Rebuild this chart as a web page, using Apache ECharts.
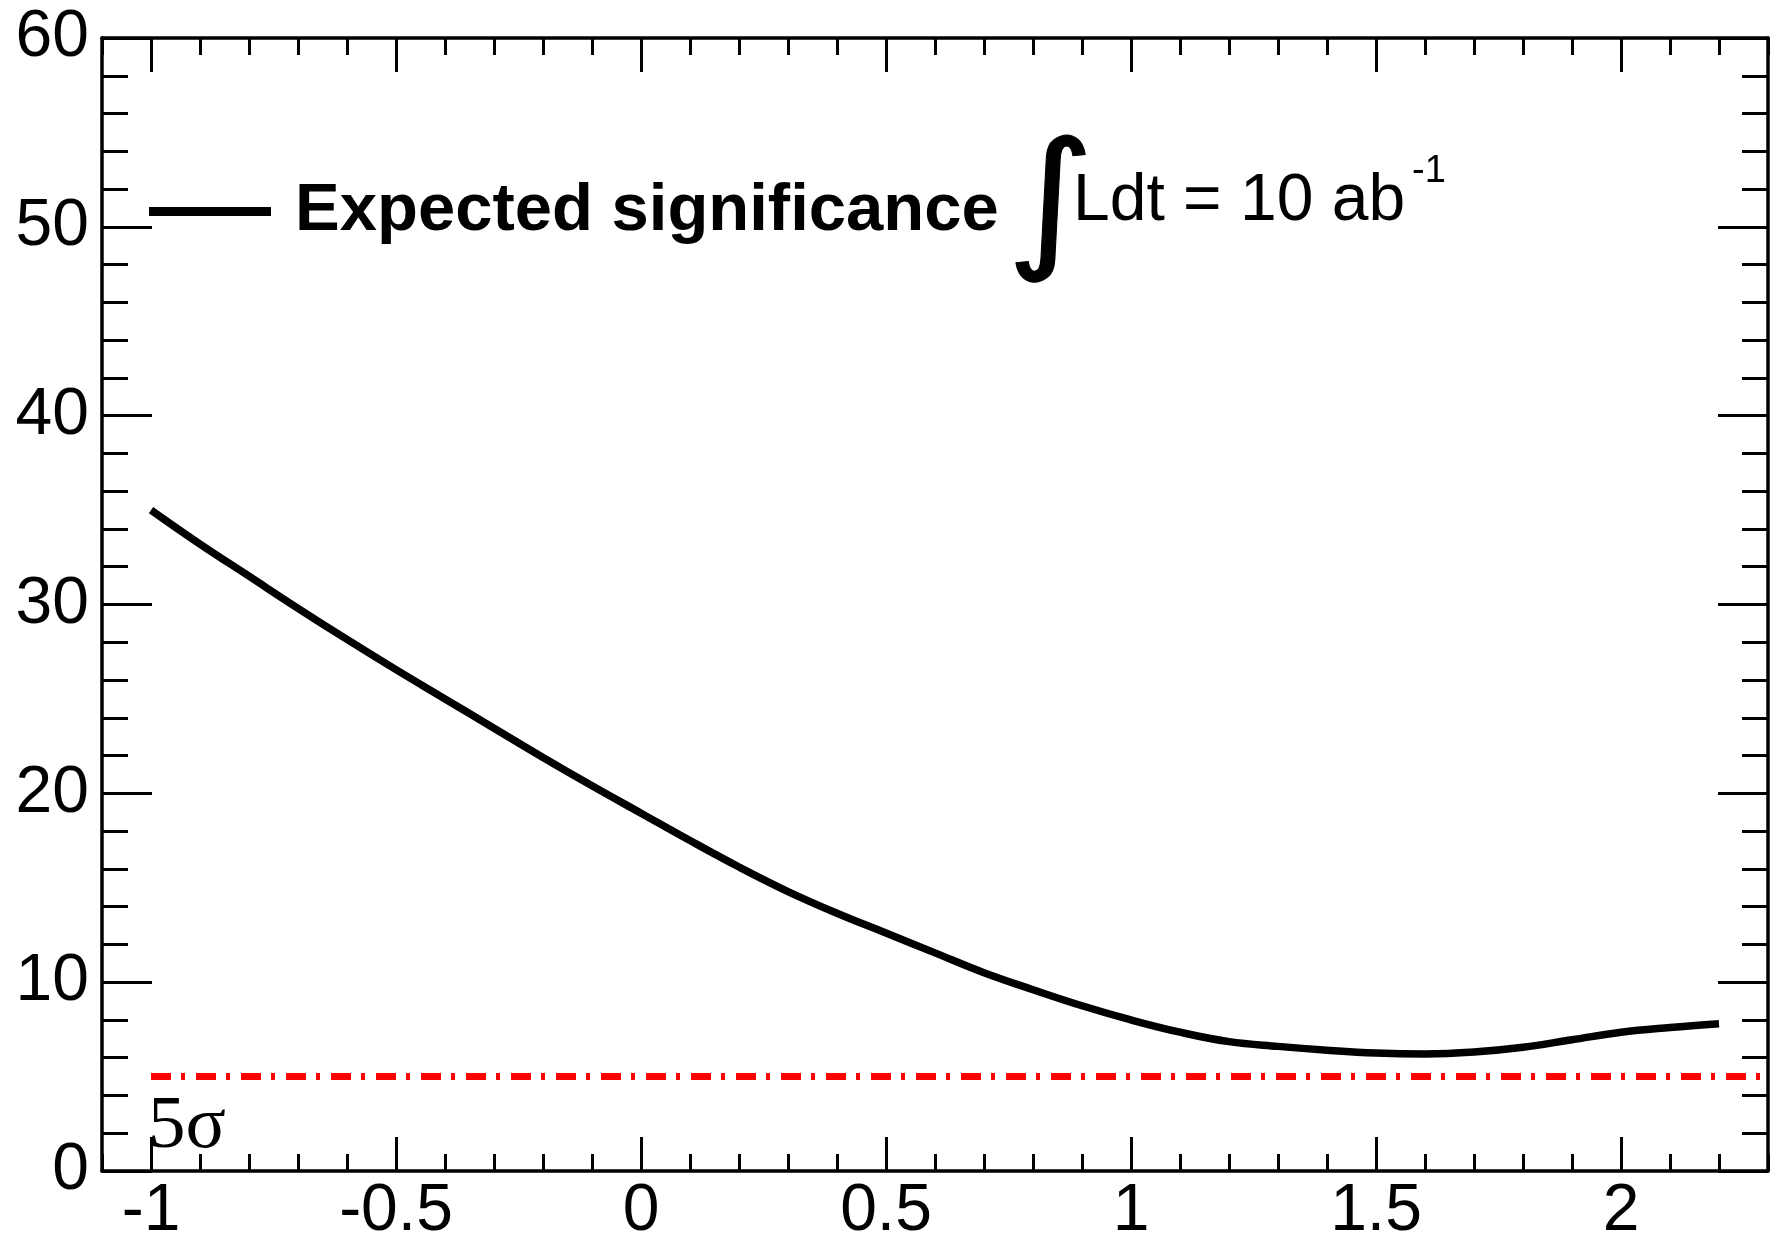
<!DOCTYPE html>
<html>
<head>
<meta charset="utf-8">
<script src="https://cdn.jsdelivr.net/npm/echarts@6/dist/echarts.min.js"></script>
<style>
  html, body { margin: 0; padding: 0; background: #fff; }
  #draw { width: 1770px; height: 1239px; }
</style>
</head>
<body>
<div id="draw"></div>
<script>
  // expected significance vs x
  var xValues = [-1.0, -0.9, -0.8, -0.7, -0.6, -0.5, -0.4, -0.3, -0.2, -0.1,
    0.0, 0.1, 0.2, 0.3, 0.4, 0.5, 0.6, 0.7, 0.8, 0.9,
    1.0, 1.1, 1.2, 1.3, 1.4, 1.5, 1.6, 1.7, 1.8, 1.9,
    2.0, 2.1, 2.2]
  var significance = [35.0, 33.2, 31.5, 29.8, 28.15, 26.55, 25.0, 23.45, 21.9, 20.4,
    18.95, 17.5, 16.1, 14.8, 13.65, 12.6, 11.55, 10.5, 9.6, 8.75,
    8.0, 7.35, 6.85, 6.6, 6.4, 6.25, 6.2, 6.3, 6.55, 6.95,
    7.35, 7.6, 7.8]
  var xTickLabels = [-1, -0.5, 0, 0.5, 1, 1.5, 2]
  var sigmaX = [-1, 2.3]
  var sigmaLevel = 5
  var xMin = -1.1
  var xMax = 2.3

  var curve = xValues.map(function (x, i) { return [x, significance[i]] })
  var sigmaLine = sigmaX.map(function (x) { return [x, sigmaLevel] })

  var font = 'Liberation Sans, Arial, Helvetica, sans-serif'
  var frame = { onZero: false, lineStyle: { color: '#000', width: 3.5 } }
  var tickStyle = { color: '#000', width: 3 }

  function xAxisMajor (pos, withLabels) {
    return {
      type: 'value', position: pos, min: xMin, max: xMax,
      axisLine: frame,
      splitLine: { show: false },
      axisTick: { inside: true, length: 34, customValues: xTickLabels, lineStyle: tickStyle },
      axisLabel: {
        show: withLabels, customValues: xTickLabels, margin: 8,
        fontFamily: font, fontSize: 66, color: '#000'
      }
    }
  }
  function xAxisMinor (pos) {
    return {
      type: 'value', position: pos, min: xMin, max: xMax, interval: 0.1,
      axisLine: { show: false, onZero: false },
      splitLine: { show: false },
      axisTick: { inside: true, length: 17, lineStyle: tickStyle },
      axisLabel: { show: false }
    }
  }
  function yAxis (pos, withLabels) {
    return {
      type: 'value', position: pos, min: 0, max: 60, interval: 10,
      axisLine: frame,
      splitLine: { show: false },
      axisTick: { inside: true, length: 50, lineStyle: tickStyle },
      minorTick: { show: true, splitNumber: 5, length: 26, lineStyle: tickStyle },
      axisLabel: { show: withLabels, margin: 13, fontFamily: font, fontSize: 66, color: '#000' }
    }
  }

  var myChart = echarts.init(document.getElementById('draw'))
  myChart.setOption({
    animation: false,
    backgroundColor: '#fff',
    grid: { left: 102, right: 2, top: 38, bottom: 68, outerBoundsMode: 'none' },
    xAxis: [
      xAxisMajor('bottom', true),
      xAxisMinor('bottom'),
      xAxisMajor('top', false),
      xAxisMinor('top')
    ],
    yAxis: [yAxis('left', true), yAxis('right', false)],
    legend: {
      data: ['Expected significance'],
      left: 149,
      top: 178,
      padding: 0,
      icon: 'rect',
      itemWidth: 122,
      itemHeight: 9,
      textStyle: {
        fontFamily: font, fontWeight: 'bold', fontSize: 67, color: '#000',
        padding: [0, 0, 0, 19]
      }
    },
    graphic: [
      { type: 'text', x: 1006, y: 211, scaleX: 1.12, style: { text: '\u222b', fontFamily: 'DejaVu Sans', fontSize: 152, fill: '#000', stroke: '#000', lineWidth: 1, verticalAlign: 'middle' } },
      { type: 'text', x: 1073, y: 202, style: { text: 'Ldt = 10 ab', fontFamily: font, fontSize: 66, fill: '#000', verticalAlign: 'middle' } },
      { type: 'text', x: 1412, y: 172, style: { text: '-1', fontFamily: font, fontSize: 38, fill: '#000', verticalAlign: 'middle' } },
      { type: 'text', x: 148, y: 1127, style: { text: '5\u03c3', fontFamily: 'Liberation Serif, Times New Roman, serif', fontSize: 75, fill: '#000', verticalAlign: 'middle' } }
    ],
    series: [
      {
        name: 'Expected significance',
        type: 'line',
        xAxisIndex: 0,
        yAxisIndex: 0,
        smooth: 0.4,
        showSymbol: false,
        color: '#000',
        lineStyle: { color: '#000', width: 7.5 },
        data: curve
      },
      {
        name: '5 sigma',
        type: 'line',
        xAxisIndex: 0,
        yAxisIndex: 0,
        showSymbol: false,
        color: '#ff0000',
        lineStyle: { color: '#ff0000', width: 7, type: [20, 10, 4, 11] },
        data: sigmaLine
      }
    ]
  })
</script>
</body>
</html>
